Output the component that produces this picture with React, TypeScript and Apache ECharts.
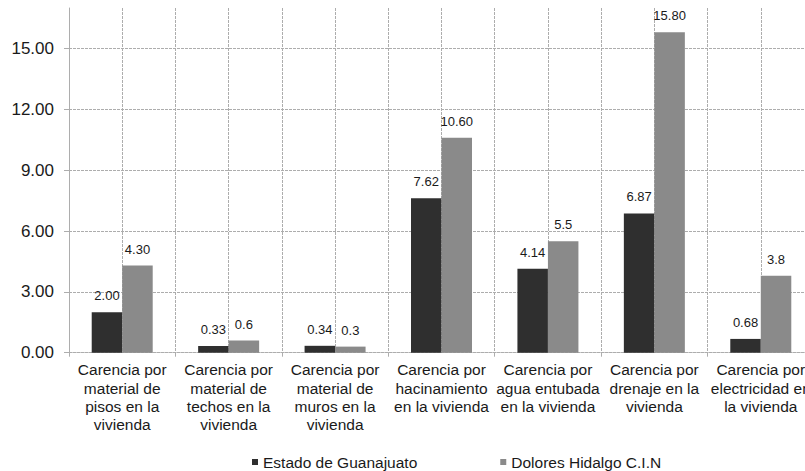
import React, { useEffect, useRef } from "react";
import * as echarts from "echarts";

const categories = [
  "Carencia por\nmaterial de\npisos en la\nvivienda",
  "Carencia por\nmaterial de\ntechos en la\nvivienda",
  "Carencia por\nmaterial de\nmuros en la\nvivienda",
  "Carencia por\nhacinamiento\nen la vivienda",
  "Carencia por\nagua entubada\nen la vivienda",
  "Carencia por\ndrenaje en la\nvivienda",
  "Carencia por\nelectricidad en\nla vivienda",
];
const guanajuatoValues = [2.0, 0.33, 0.34, 7.62, 4.14, 6.87, 0.68];
const guanajuatoLabels = ["2.00", "0.33", "0.34", "7.62", "4.14", "6.87", "0.68"];
const doloresValues = [4.3, 0.6, 0.3, 10.6, 5.5, 15.8, 3.8];
const doloresLabels = ["4.30", "0.6", "0.3", "10.60", "5.5", "15.80", "3.8"];
const seriesNames = ["Estado de Guanajuato", "Dolores Hidalgo C.I.N"];

const FONT = "'Liberation Sans', Arial, sans-serif";
const GRID_COLOR = "#adadad";

export default function App() {
  const ref = useRef<HTMLDivElement>(null);
  useEffect(() => {
    document.body.style.overflow = "hidden";
    if (!ref.current) return;
    const chart = echarts.init(ref.current, undefined, { renderer: "svg" });
    chart.setOption({
      animation: false,
      backgroundColor: "#ffffff",
      textStyle: { fontFamily: FONT },
      grid: { left: 69, top: 8, width: 745, height: 344.7, containLabel: false },
      legend: {
        left: 252,
        top: 454,
        padding: 0,
        itemWidth: 6,
        itemHeight: 6,
        itemGap: 83,
        icon: "rect",
        textStyle: { fontSize: 15.5, color: "#1a1a1a", fontFamily: FONT },
        data: seriesNames,
      },
      xAxis: [
        {
          type: "category",
          data: categories,
          axisLine: { show: true, lineStyle: { color: GRID_COLOR, type: [3, 1] } },
          axisTick: { show: true, length: 4, lineStyle: { color: GRID_COLOR } },
          splitLine: { show: false },
          axisLabel: {
            interval: 0,
            margin: 8,
            fontSize: 15.5,
            lineHeight: 18.3,
            color: "#1a1a1a",
            fontFamily: FONT,
            align: "center",
          },
        },
        {
          type: "value",
          min: 0,
          max: 7,
          interval: 0.5,
          show: true,
          position: "bottom",
          axisLine: { show: false },
          axisTick: { show: false },
          axisLabel: { show: false },
          splitLine: { show: true, lineStyle: { color: GRID_COLOR, type: [3, 1] } },
        },
      ],
      yAxis: {
        type: "value",
        min: 0,
        max: 17,
        interval: 3,
        axisLine: { show: true, lineStyle: { color: GRID_COLOR, type: [3, 1] } },
        axisTick: { show: true, length: 5, lineStyle: { color: GRID_COLOR } },
        axisLabel: {
          showMaxLabel: false,
          margin: 15,
          fontSize: 17,
          color: "#1a1a1a",
          fontFamily: FONT,
          formatter: (v: number) => v.toFixed(2),
        },
        splitLine: { show: true, showMaxLine: false, lineStyle: { color: GRID_COLOR, type: [3, 1] } },
      },
      series: [
        {
          name: seriesNames[0],
          type: "bar",
          xAxisIndex: 0,
          data: guanajuatoValues,
          barWidth: 30.5,
          barGap: "0%",
          itemStyle: { color: "#2f2f2f" },
          label: {
            show: true,
            position: "top",
            distance: 10,
            fontSize: 13,
            color: "#1a1a1a",
            fontFamily: FONT,
            formatter: (p: any) => guanajuatoLabels[p.dataIndex],
          },
        },
        {
          name: seriesNames[1],
          type: "bar",
          xAxisIndex: 0,
          data: doloresValues,
          barWidth: 30.5,
          barGap: "0%",
          itemStyle: { color: "#8a8a8a" },
          label: {
            show: true,
            position: "top",
            distance: 10,
            fontSize: 13,
            color: "#1a1a1a",
            fontFamily: FONT,
            formatter: (p: any) => doloresLabels[p.dataIndex],
          },
        },
      ],
    });
    return () => chart.dispose();
  }, []);
  return (
    <div
      ref={ref}
      style={{ position: "fixed", left: 0, top: 0, width: 830, height: 471, background: "#fff" }}
    />
  );
}
